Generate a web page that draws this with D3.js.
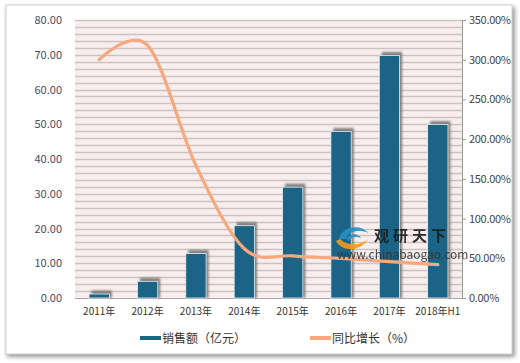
<html>
<head>
<meta charset="utf-8">
<script src="https://cdn.jsdelivr.net/npm/d3@7"></script>
<style>
body { margin:0; background:#fff; }
text { font-family: "Noto Sans CJK SC", "DejaVu Sans", sans-serif; }
</style>
</head>
<body>
<svg id="chart" width="520" height="363"></svg>
<script>
// data
var years = ["2011年", "2012年", "2013年", "2014年", "2015年", "2016年", "2017年", "2018年H1"];
var sales = [1.15, 4.8, 12.8, 20.8, 31.9, 47.9, 69.8, 49.9];
var growth = [300, 318, 167, 62, 53, 50, 45.7, 42];
var left_ticks = [0, 10, 20, 30, 40, 50, 60, 70, 80];
var right_ticks = [0, 50, 100, 150, 200, 250, 300, 350];

var svg = d3.select("#chart");
var defs = svg.append("defs");

var f = defs.append("filter").attr("id", "shadow").attr("x", "-30%").attr("y", "-30%").attr("width", "160%").attr("height", "160%");
f.append("feGaussianBlur").attr("stdDeviation", 1.3);

var fr = defs.append("filter").attr("id", "frameShadow").attr("x", "-5%").attr("y", "-5%").attr("width", "110%").attr("height", "110%");
fr.append("feGaussianBlur").attr("stdDeviation", 2);

// outer frame
svg.append("rect").attr("x", 7).attr("y", 7).attr("width", 508).attr("height", 350)
  .attr("fill", "#999").attr("filter", "url(#frameShadow)");
svg.append("rect").attr("x", 6).attr("y", 5).attr("width", 506).attr("height", 349)
  .attr("fill", "#fff").attr("stroke", "#d0d0d0");

var plot_left = 75, plot_right = 462, plot_top = 20, plot_bottom = 298;

var x = d3.scaleBand().domain(years).range([plot_left, plot_right]).paddingInner(0.58).paddingOuter(0.29);
var xc = d3.scalePoint().domain(years).range([plot_left, plot_right]).padding(0.5);
var y = d3.scaleLinear().domain([0, 80]).range([plot_bottom, plot_top]);
var y2 = d3.scaleLinear().domain([0, 350]).range([plot_bottom, plot_top]);

// plot background with stripes
svg.append("rect").attr("x", plot_left).attr("y", plot_top).attr("width", plot_right - plot_left).attr("height", plot_bottom - plot_top)
  .attr("fill", "#f8eeee");
svg.append("g").selectAll("line").data(d3.range(2, 81, 2)).enter()
  .append("line")
  .attr("x1", plot_left).attr("x2", plot_right)
  .attr("y1", function(d) { return Math.round(y(d)) + 0.5; })
  .attr("y2", function(d) { return Math.round(y(d)) + 0.5; })
  .attr("stroke", "#cbc3c3").attr("stroke-width", 1.3);

// left axis labels
svg.append("g").selectAll("text").data(left_ticks).enter()
  .append("text")
  .attr("x", 62).attr("y", function(d) { return y(d) + 4; })
  .attr("text-anchor", "end").attr("font-size", 11).attr("fill", "#4a4a66")
  .text(function(d) { return d.toFixed(2); });

// right axis
var ax2 = d3.axisRight(y2).tickValues(right_ticks).tickSize(4).tickPadding(3)
  .tickFormat(function(d) { return d.toFixed(2) + "%"; });
var g2 = svg.append("g").attr("transform", "translate(" + plot_right + ",0)").call(ax2);
g2.select(".domain").attr("stroke", "#999");
g2.selectAll(".tick line").attr("stroke", "#999");
g2.selectAll("text").attr("font-size", 11).attr("fill", "#444")
  .attr("font-family", "'DejaVu Sans Mono', monospace").attr("letter-spacing", -0.3);

// bottom axis
svg.append("line").attr("x1", plot_left).attr("x2", plot_right).attr("y1", plot_bottom + 0.5).attr("y2", plot_bottom + 0.5)
  .attr("stroke", "#aaa");
svg.append("g").selectAll("text").data(years).enter()
  .append("text")
  .attr("x", function(d) { return xc(d); }).attr("y", 315)
  .attr("text-anchor", "middle").attr("font-size", 10).attr("fill", "#333")
  .text(function(d) { return d; });

// bar shadows
svg.append("g").selectAll("rect").data(sales).enter()
  .append("rect")
  .attr("x", function(d, i) { return x(years[i]) + 2.5; })
  .attr("y", function(d) { return y(d) - 3.5; })
  .attr("width", x.bandwidth())
  .attr("height", function(d) { return plot_bottom - y(d) + 3.5; })
  .attr("fill", "#666").attr("opacity", 0.8).attr("filter", "url(#shadow)");

// bars
svg.append("g").selectAll("rect").data(sales).enter()
  .append("rect")
  .attr("x", function(d, i) { return x(years[i]); })
  .attr("y", function(d) { return y(d); })
  .attr("width", x.bandwidth())
  .attr("height", function(d) { return plot_bottom - y(d); })
  .attr("fill", "#1b6485").attr("stroke", "#e8eef2").attr("stroke-width", 0.8);

// growth line
var line = d3.line()
  .x(function(d, i) { return xc(years[i]); })
  .y(function(d) { return y2(d); })
  .curve(d3.curveCardinal.tension(0));
svg.append("path").datum(growth).attr("d", line)
  .attr("fill", "none").attr("stroke", "#f7a97c").attr("stroke-width", 3.2)
  .attr("stroke-linecap", "round");

// watermark
var wm = svg.append("g").attr("transform", "translate(336,225)").attr("opacity", 0.9);
wm.append("path").attr("d", "M3,14 C5,2 24,-2 32,8 C24,4 12,6 10,14 Z").attr("fill", "#2a8fc4");
wm.append("path").attr("d", "M10,14 C14,8 22,8 25,13 C20,11 15,12 13,16 Z").attr("fill", "#2a8fc4");
wm.append("path").attr("d", "M0,16 C6,28 26,26 32,14 C26,20 12,22 4,14 Z").attr("fill", "#f39a1e");
wm.append("text").attr("x", 38).attr("y", 16).attr("font-size", 15).attr("font-weight", "bold")
  .attr("fill", "#1a1a1a").attr("letter-spacing", 4).text("观研天下");
wm.append("text").attr("x", 1).attr("y", 34).attr("font-size", 12).attr("fill", "#333")
  .attr("font-family", "'Liberation Sans', Arial, sans-serif")
  .text("www.chinabaogao.com");

// legend
var lg = svg.append("g").attr("transform", "translate(0,338)");
lg.append("line").attr("x1", 140).attr("x2", 161).attr("y1", 0).attr("y2", 0)
  .attr("stroke", "#1b6485").attr("stroke-width", 4);
lg.append("text").attr("x", 162).attr("y", 4.5).attr("font-size", 12).attr("fill", "#333").text("销售额（亿元）");
lg.append("line").attr("x1", 310).attr("x2", 331).attr("y1", 0).attr("y2", 0)
  .attr("stroke", "#f7a97c").attr("stroke-width", 4);
lg.append("text").attr("x", 332).attr("y", 4.5).attr("font-size", 12).attr("fill", "#333").text("同比增长（%）");
</script>
</body>
</html>
